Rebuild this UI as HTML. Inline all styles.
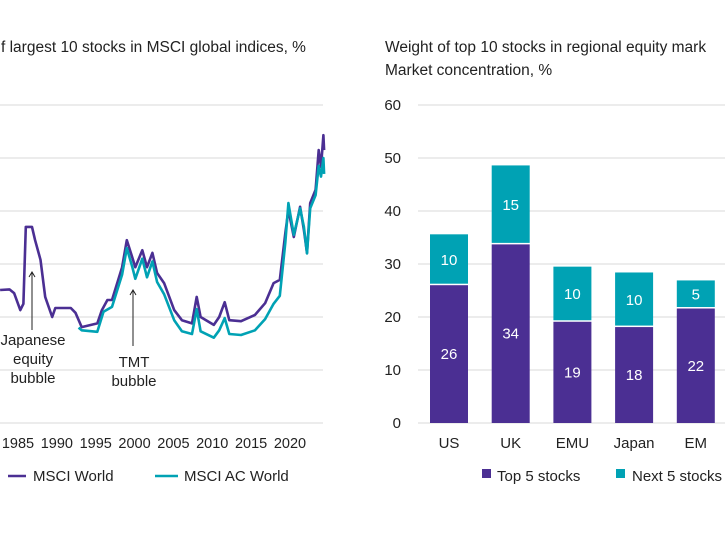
<!DOCTYPE html>
<html><head><meta charset="utf-8"><style>
html,body{margin:0;padding:0;background:#fff;width:725px;height:544px;overflow:hidden}
svg{display:block;font-family:"Liberation Sans",sans-serif}
</style></head><body>
<svg id="c" width="725" height="544" viewBox="0 0 725 544">
<text x="1" y="52" font-size="15.5" fill="#222">f largest 10 stocks in MSCI global indices, %</text>
<text x="385" y="52" font-size="15.5" fill="#222">Weight of top 10 stocks in regional equity mark</text>
<text x="385" y="75" font-size="15.5" fill="#222">Market concentration, %</text>
<g id="lg"></g>
<g id="rg"></g>
</svg>
<script>
const years=[1982.7,1983.9,1984.5,1985.3,1985.7,1986,1986.8,1987.2,1987.9,1988.5,1989.4,1989.8,1991.8,1992.4,1993.2,1995.2,1995.8,1996.5,1997.1,1998.4,1999,1999.7,2000.1,2001,2001.6,2002.3,2002.9,2003.8,2005.1,2006.1,2007.4,2008,2008.5,2010.2,2010.9,2011.6,2012.2,2013.7,2015.5,2016.8,2017.9,2018.7,2019.4,2019.8,2020.5,2021.3,2021.8,2022.2,2022.6,2023.3,2023.7,2024,2024.3,2024.4];
const msciWorld=[25.1,25.2,24.5,21.3,22.5,37,37,34.5,30.8,23.8,20,21.7,21.7,20.8,18.1,18.8,21.3,23.2,23.2,29.4,34.5,31.3,29.4,32.6,29.4,32.1,28.3,26.4,21.3,19.4,18.8,23.8,20,18.5,20,22.8,19.4,19.2,20.4,22.6,26.4,27,35.8,40.2,35.1,40.8,36.4,32.1,41.5,44,51.5,48.3,54.3,51.5];
const acYears=[1992.8,1993.2,1995.2,1996,1997.1,1998.4,1999,1999.7,2000.1,2001,2001.6,2002.3,2002.9,2003.8,2005.1,2006.1,2007.4,2008,2008.5,2010.2,2010.9,2011.6,2012.2,2013.7,2015.5,2016.8,2017.9,2018.7,2019.4,2019.8,2020.5,2021.3,2021.8,2022.2,2022.6,2023.3,2023.7,2024,2024.3,2024.4];
const msciAcWorld=[18,17.5,17.2,21,21.9,28,33,29.5,27.2,31,27.5,30.5,26.6,24.3,19.4,17.3,16.8,21.5,17.3,16.1,17.5,19.8,16.8,16.6,17.5,19.6,22.5,24,34,41.5,35.5,40.5,37,32,40.5,43,48.5,46.5,50,47];
const xTicks=[1985,1990,1995,2000,2005,2010,2015,2020];
const yTicks=[0,10,20,30,40,50,60];
const regions=["US","UK","EMU","Japan","EM"];
const top5=[26,33.7,19.1,18.1,21.6];
const next5=[9.6,14.9,10.4,10.3,5.3];
const top5Labels=["26","34","19","18","22"];
const next5Labels=["10","15","10","10","5"];

const NS="http://www.w3.org/2000/svg";
function mk(p,t,a,txt){const e=document.createElementNS(NS,t);for(const k in a)e.setAttribute(k,a[k]);if(txt!==undefined)e.textContent=txt;p.appendChild(e);return e;}
const PUR="#4b2f93",TEAL="#00a2b4";
const yS=v=>423-v*(318/60);
const lg=document.getElementById('lg');
const xL=yr=>18+(yr-1985)*7.77;
yTicks.forEach(t=>{const g=mk(lg,'line',{x1:0,x2:323,y1:yS(t),y2:yS(t),stroke:'#d9d9d9','stroke-width':1});

});
xTicks.forEach(t=>{const e=mk(lg,'text',{x:xL(t),y:448,'font-size':14.5,'text-anchor':'middle',fill:'#222'},String(t));

});
function line(xs,ys,col,name){const d=xs.map((x,i)=>(i?'L':'M')+xL(x).toFixed(1)+','+yS(ys[i]).toFixed(1)).join('');
const p=mk(lg,'path',{d:d,fill:'none',stroke:col,'stroke-width':2.6,'stroke-linejoin':'round'});

}
line(years,msciWorld,PUR,'msci-world-line');
line(acYears,msciAcWorld,TEAL,'msci-ac-world-line');
[[32,272,330,["Japanese","equity","bubble"],345],[133,290,346,["TMT","bubble"],367]].forEach(a=>{
const l=mk(lg,'line',{x1:a[0],x2:a[0],y1:a[1],y2:a[2],stroke:'#222','stroke-width':1});


mk(lg,'path',{d:`M${a[0]-3},${a[1]+5}L${a[0]},${a[1]}L${a[0]+3},${a[1]+5}`,fill:'none',stroke:'#222','stroke-width':1});
a[3].forEach((s,i)=>{const t=mk(lg,'text',{x:a[0]+1,y:a[4]+i*19,'font-size':15,'text-anchor':'middle',fill:'#222'},s);

});});
let e=mk(lg,'line',{x1:8,x2:26,y1:476,y2:476,stroke:PUR,'stroke-width':2.5});


e=mk(lg,'text',{x:33,y:481,'font-size':15,fill:'#222'},'MSCI World');


e=mk(lg,'line',{x1:155,x2:178,y1:476,y2:476,stroke:TEAL,'stroke-width':2.5});


e=mk(lg,'text',{x:184,y:481,'font-size':15,fill:'#222'},'MSCI AC World');


const rg=document.getElementById('rg');
yTicks.forEach(t=>{const g=mk(rg,'line',{x1:418,x2:725,y1:yS(t),y2:yS(t),stroke:'#d9d9d9','stroke-width':1});


const l=mk(rg,'text',{x:401,y:yS(t)+5,'font-size':15,'text-anchor':'end',fill:'#222'},String(t));

});
const xB=i=>449+i*61.7, bw=38;
regions.forEach((r,i)=>{
const x=xB(i)-bw/2;
const b1=mk(rg,'rect',{x:x,y:yS(top5[i]),width:bw,height:yS(0)-yS(top5[i]),fill:PUR});


const tot=top5[i]+next5[i];
const b2=mk(rg,'rect',{x:x,y:yS(tot),width:bw,height:yS(top5[i])-yS(tot)-1.5,fill:TEAL});


const t1=mk(rg,'text',{x:xB(i),y:yS(top5[i]/2)+5,'font-size':15,'text-anchor':'middle',fill:'#fff'},top5Labels[i]);


const t2=mk(rg,'text',{x:xB(i),y:yS(top5[i]+next5[i]/2)+5,'font-size':15,'text-anchor':'middle',fill:'#fff'},next5Labels[i]);


const xl=mk(rg,'text',{x:xB(i),y:448,'font-size':15,'text-anchor':'middle',fill:'#222'},r);

});
e=mk(rg,'rect',{x:482,y:469,width:9,height:9,fill:PUR});


e=mk(rg,'text',{x:497,y:481,'font-size':15,fill:'#222'},'Top 5 stocks');


e=mk(rg,'rect',{x:616,y:469,width:9,height:9,fill:TEAL});


e=mk(rg,'text',{x:632,y:481,'font-size':15,fill:'#222'},'Next 5 stocks');


</script>
</body></html>
